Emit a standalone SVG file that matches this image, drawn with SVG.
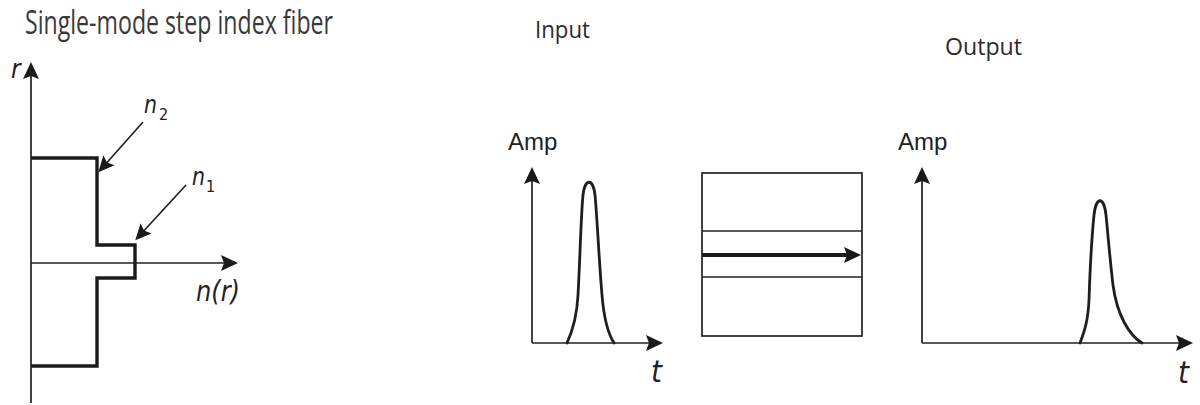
<svg xmlns="http://www.w3.org/2000/svg" width="1200" height="405" viewBox="0 0 1200 405">
  <style>
    .axis { stroke: #222; stroke-width: 1.7; fill: none; }
    .thick { stroke: #1a1a1a; stroke-width: 3.4; fill: none; stroke-linejoin: miter; }
    .pulse { stroke: #1e1e1e; stroke-width: 2.8; fill: none; stroke-linecap: round; }
    .box { stroke: #222; stroke-width: 1.7; fill: none; }
    .ray { stroke: #1a1a1a; stroke-width: 3.8; fill: none; }
    .title { font-family: "Open Sans", "DejaVu Sans", sans-serif; fill: #3a3a3a; }
    .head { font-family: "Open Sans", "DejaVu Sans", sans-serif; fill: #2b2b2b; }
    .amp { font-family: "Liberation Sans", Arial, sans-serif; fill: #222; font-size: 24px; }
    .var { font-family: "DejaVu Sans Condensed", "DejaVu Sans", sans-serif; font-style: italic; fill: #222; }
    .sub { font-family: "DejaVu Sans Condensed", "DejaVu Sans", sans-serif; fill: #222; }
  </style>
  <defs>
    <marker id="ah" viewBox="-19 -10 20 20" refX="-7" refY="0" markerWidth="20" markerHeight="20" markerUnits="userSpaceOnUse" orient="auto">
      <path d="M0,0 L-17,-8 L-14,0 L-17,8 Z" fill="#1a1a1a"/>
    </marker>
    <marker id="ahs" viewBox="-19 -10 20 20" refX="-7" refY="0" markerWidth="20" markerHeight="20" markerUnits="userSpaceOnUse" orient="auto">
      <path d="M0,0 L-16,-7.5 L-13,0 L-16,7.5 Z" fill="#1a1a1a"/>
    </marker>
  </defs>

  <!-- Refractive index profile -->
  <g id="index-profile">
    <text class="title" x="25" y="34" font-size="32" textLength="308" lengthAdjust="spacingAndGlyphs">Single-mode step index fiber</text>
    <path class="thick" d="M31,158 H97 V245 H135 V278 H97 V366 H31"/>
    <text class="var" x="11" y="78" font-size="26">r</text>
    <text class="var" x="196" y="301" font-size="28" textLength="44" lengthAdjust="spacingAndGlyphs">n(r)</text>
    <text class="var" x="144" y="113" font-size="24" textLength="13" lengthAdjust="spacingAndGlyphs">n</text>
    <text class="sub" x="159" y="120" font-size="16">2</text>
    <text class="var" x="192" y="185" font-size="24" textLength="13" lengthAdjust="spacingAndGlyphs">n</text>
    <text class="sub" x="206" y="192" font-size="16">1</text>
  </g>

  <!-- Input pulse plot -->
  <g id="input-plot">
    <text class="head" x="535" y="38" font-size="24" textLength="55" lengthAdjust="spacingAndGlyphs">Input</text>
    <text class="amp" x="508" y="150">Amp</text>
    <path class="pulse" d="M567,343 C573,330 577,315 578,295 C580,260 581,215 583,195 C585,178 593,178 595,195 C597,215 599,260 602,295 C604,320 609,335 614,343"/>
    <text class="var" x="651" y="382" font-size="30" textLength="11" lengthAdjust="spacingAndGlyphs">t</text>
  </g>

  <!-- Fiber section -->
  <g id="fiber">
    <rect class="box" x="702" y="173" width="160" height="163"/>
    <line class="box" x1="702" y1="231" x2="862" y2="231"/>
    <line class="box" x1="702" y1="277" x2="862" y2="277"/>
  </g>

  <!-- Output pulse plot -->
  <g id="output-plot">
    <text class="head" x="945" y="55" font-size="24" textLength="77" lengthAdjust="spacingAndGlyphs">Output</text>
    <text class="amp" x="898" y="150">Amp</text>
    <path class="pulse" d="M1080,343 C1085,330 1088,320 1089,300 C1090,270 1092,235 1094,215 C1096,196 1104,196 1106,215 C1108,235 1110,260 1113,285 C1117,315 1129,335 1142,343"/>
    <text class="var" x="1178" y="383" font-size="30" textLength="11" lengthAdjust="spacingAndGlyphs">t</text>
  </g>

  <!-- Axes and pointer arrows -->
  <g id="connectors">
    <line class="axis" x1="31" y1="403" x2="31" y2="69" marker-end="url(#ah)"/>
    <line class="axis" x1="31" y1="263" x2="231" y2="263" marker-end="url(#ah)"/>
    <line class="axis" x1="143" y1="122" x2="103" y2="167" marker-end="url(#ahs)"/>
    <line class="axis" x1="186" y1="185" x2="140" y2="235" marker-end="url(#ahs)"/>
    <line class="axis" x1="532" y1="343" x2="532" y2="174" marker-end="url(#ah)"/>
    <line class="axis" x1="532" y1="343" x2="656" y2="343" marker-end="url(#ah)"/>
    <line class="ray" x1="702" y1="255" x2="854" y2="255" marker-end="url(#ah)"/>
    <line class="axis" x1="922" y1="343" x2="922" y2="174" marker-end="url(#ah)"/>
    <line class="axis" x1="922" y1="343" x2="1186" y2="343" marker-end="url(#ah)"/>
  </g>
</svg>
